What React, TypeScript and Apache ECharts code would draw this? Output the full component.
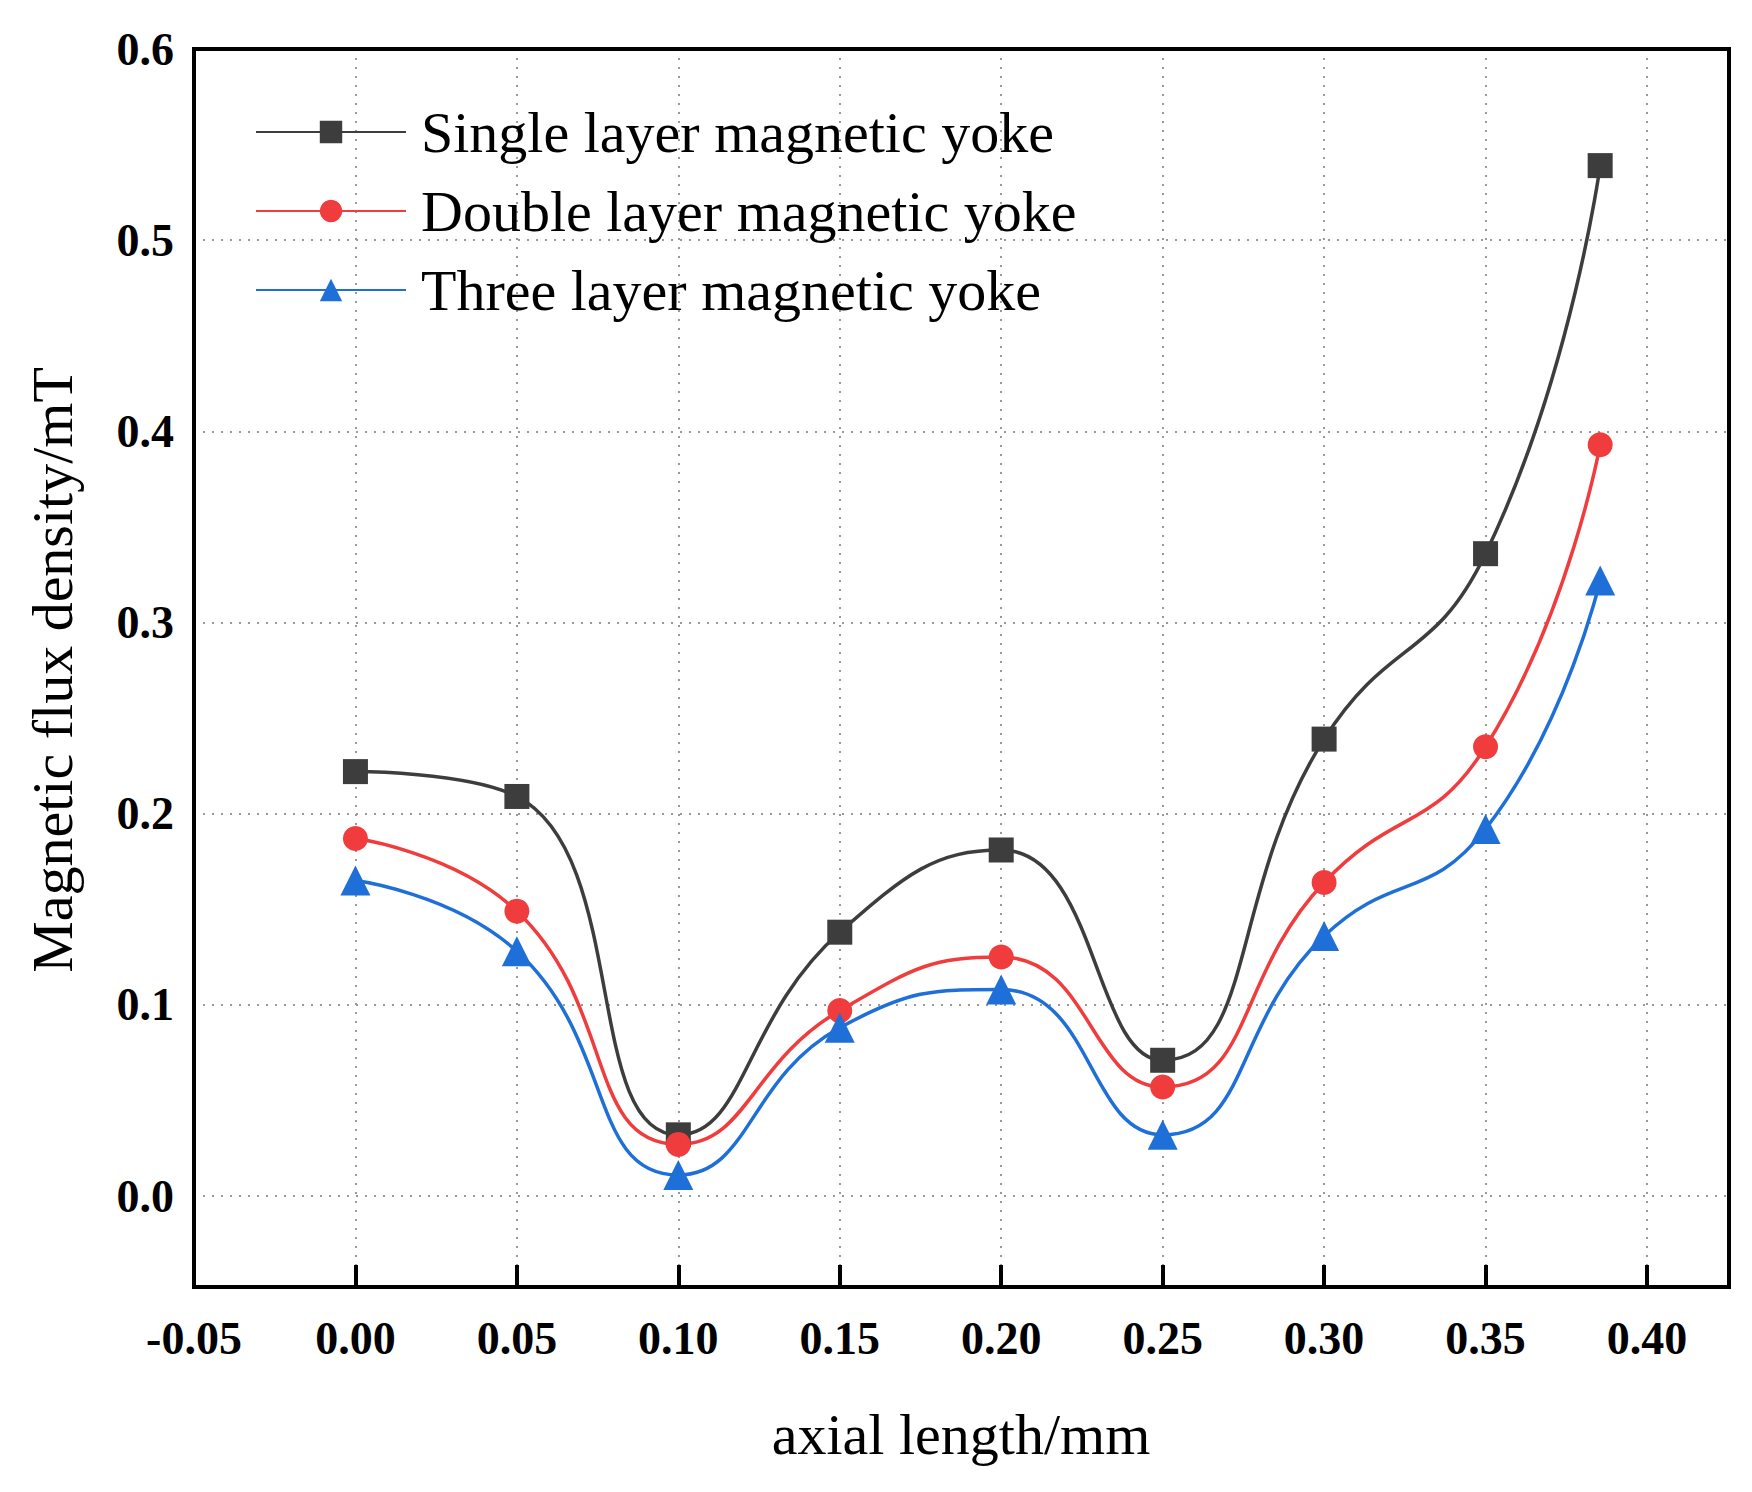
import React, { useEffect, useRef } from 'react';
import * as echarts from 'echarts';

const xValues = [0, 0.05, 0.1, 0.15, 0.2, 0.25, 0.3, 0.35, 0.3855];
const singleLayer = [0.222, 0.209, 0.032, 0.138, 0.181, 0.071, 0.239, 0.336, 0.539];
const doubleLayer = [0.187, 0.149, 0.027, 0.097, 0.125, 0.057, 0.164, 0.235, 0.393];
const threeLayer = [0.165, 0.128, 0.011, 0.088, 0.108, 0.032, 0.136, 0.192, 0.322];
const seriesNames = ['Single layer magnetic yoke', 'Double layer magnetic yoke', 'Three layer magnetic yoke'];

const FONT = '"Liberation Serif", "Times New Roman", serif';

export default function App() {
  const ref = useRef<HTMLDivElement>(null);

  useEffect(() => {
    if (!ref.current) return;
    const chart = echarts.init(ref.current, undefined, { renderer: 'svg' });
    const mk = (name: string, vals: number[], color: string, symbol: string) => ({
      name,
      type: 'line',
      xAxisIndex: 0,
      yAxisIndex: 0,
      smooth: 0.5,
      symbol,
      symbolSize: symbol === 'triangle' ? 30 : 25,
      showAllSymbol: true,
      data: xValues.map((x, i) => [x, vals[i]]),
      lineStyle: { color, width: 3.5 },
      itemStyle: { color },
    });
    chart.setOption({
      animation: false,
      backgroundColor: '#fff',
      grid: [
        { left: 194, right: 23, top: 49, bottom: 296, show: false },
        { left: 194, right: 23, top: 49, bottom: 205, show: false },
      ],
      legend: {
        left: 250,
        top: 98,
        orient: 'vertical',
        itemWidth: 150,
        itemHeight: 28,
        itemGap: 21,
        textStyle: { fontFamily: FONT, fontSize: 58, color: '#000', lineHeight: 58, padding: [0, 0, 0, 10] },
        data: seriesNames,
      },
      xAxis: [
        { gridIndex: 0, type: 'value', min: -0.05, max: 0.4254, show: false },
        {
          gridIndex: 1,
          type: 'value',
          min: -0.05,
          max: 0.4254,
          interval: 0.05,
          axisLine: { show: false },
          axisTick: { inside: true, length: 22, lineStyle: { color: '#000', width: 4 } },
          axisLabel: {
            showMaxLabel: false,
            margin: 28,
            fontFamily: FONT,
            fontSize: 46,
            fontWeight: 'bold',
            color: '#000',
            formatter: (v: number) => v.toFixed(2),
          },
          splitLine: { show: true, lineStyle: { color: '#999', type: [2, 7], width: 2 } },
        },
      ],
      yAxis: [
        {
          gridIndex: 0,
          type: 'value',
          min: 0,
          max: 0.6,
          interval: 0.1,
          axisLine: { show: false },
          axisTick: { show: false },
          axisLabel: {
            margin: 20,
            fontFamily: FONT,
            fontSize: 46,
            fontWeight: 'bold',
            color: '#000',
            formatter: (v: number) => v.toFixed(1),
          },
          splitLine: { show: true, lineStyle: { color: '#999', type: [2, 7], width: 2 } },
        },
        { gridIndex: 1, type: 'value', min: 0, max: 1, show: false },
      ],
      graphic: [
        {
          type: 'rect',
          z: 100,
          shape: { x: 194, y: 49, width: 1535, height: 1238 },
          style: { fill: 'none', stroke: '#000', lineWidth: 4 },
        },
        {
          type: 'text',
          x: 961,
          y: 1434,
          style: { text: 'axial length/mm', font: `58px ${FONT}`, fill: '#000', align: 'center', verticalAlign: 'middle' },
        },
        {
          type: 'text',
          x: 52,
          y: 670,
          rotation: Math.PI / 2,
          style: { text: 'Magnetic flux density/mT', font: `58px ${FONT}`, fill: '#000', align: 'center', verticalAlign: 'middle' },
        },
      ],
      series: [
        mk(seriesNames[0], singleLayer, '#3d3d3d', 'rect'),
        mk(seriesNames[1], doubleLayer, '#f03c3c', 'circle'),
        mk(seriesNames[2], threeLayer, '#1f6fd8', 'triangle'),
      ],
    });
    return () => chart.dispose();
  }, []);

  return <div ref={ref} style={{ position: 'absolute', left: 0, top: 0, width: 1752, height: 1492 }} />;
}
